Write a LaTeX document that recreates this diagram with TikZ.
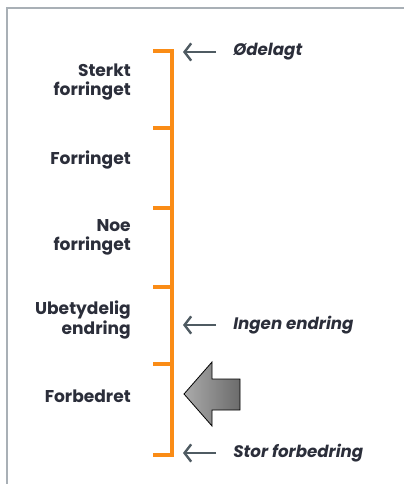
\documentclass[tikz,border=0pt]{standalone}
\usepackage{fontspec}
\setmainfont{Poppins}
\usetikzlibrary{arrows.meta,positioning,calc}
\definecolor{scaleorange}{HTML}{FA8C16}
\definecolor{labeltext}{HTML}{2B2E3A}
\definecolor{pointergray}{HTML}{4F5B62}
\definecolor{framegray}{HTML}{A9B0B6}

\begin{document}
\begin{tikzpicture}[x=0.75pt,y=-0.75pt,font=\fontsize{12.8}{14.3}\selectfont\bfseries,
  levellabel/.style={anchor=east,align=right,text=labeltext,inner sep=0pt},
  endlabel/.style={anchor=west,text=labeltext,inner sep=0pt,font=\fontsize{12.5}{14}\selectfont\bfseries\itshape},
  ptr/.style={pointergray,line width=1.8pt,-{Straight Barb[length=5pt,width=13pt]},shorten <=12.75pt,shorten >=8.25pt},
  scaleline/.style={scaleorange,line width=3pt}]
  \useasboundingbox (0,0) rectangle (403,484);
  % Frame (only top and left edges visible)
  \draw[framegray,line width=1.5pt] (7,490) -- (7,8.5) -- (410,8.5);

  % Orange scale with ticks
  \foreach \name/\y in {t0/51,t1/128,t2/208,t3/287,t4/364,t5/455}
    \coordinate (\name) at (172,\y);
  \draw[scaleline] ($(t0)+(-19,0)$) -- (t0) -- (t5) -- ($(t5)+(-19,0)$);
  \foreach \name in {t1,t2,t3,t4}
    \draw[scaleline] (\name) -- ++(-19,0);

  % Levels on the left
  \node[levellabel] (sterkt) at (131,82) {Sterkt\\forringet};
  \node[levellabel] (forringet) at (131,160) {Forringet};
  \node[levellabel] (noe) at (131,237) {Noe\\forringet};
  \node[levellabel] (ubetydelig) at (131,320) {Ubetydelig\\endring};
  \node[levellabel] (forbedret) at (131,396) {Forbedret};

  % Reference points on the right
  \node[endlabel] (odelagt) at (233,52) {Ødelagt};
  \node[endlabel] (ingen) at (233,325) {Ingen endring};
  \node[endlabel] (stor) at (233,453) {Stor forbedring};
  \draw[ptr] (odelagt.west) -- (odelagt.west -| t0);
  \draw[ptr] (ingen.west) -- (ingen.west -| t0);
  \draw[ptr] (stor.west) -- (stor.west -| t0);

  % Big block arrow marking the result
  \shade[draw=black,line width=0.6pt,left color=black!33,right color=black!58]
    (184,394) -- (212,362) -- (212,379) -- (240,379) -- (240,410)
    -- (212,410) -- (212,426) -- cycle;
\end{tikzpicture}
\end{document}
